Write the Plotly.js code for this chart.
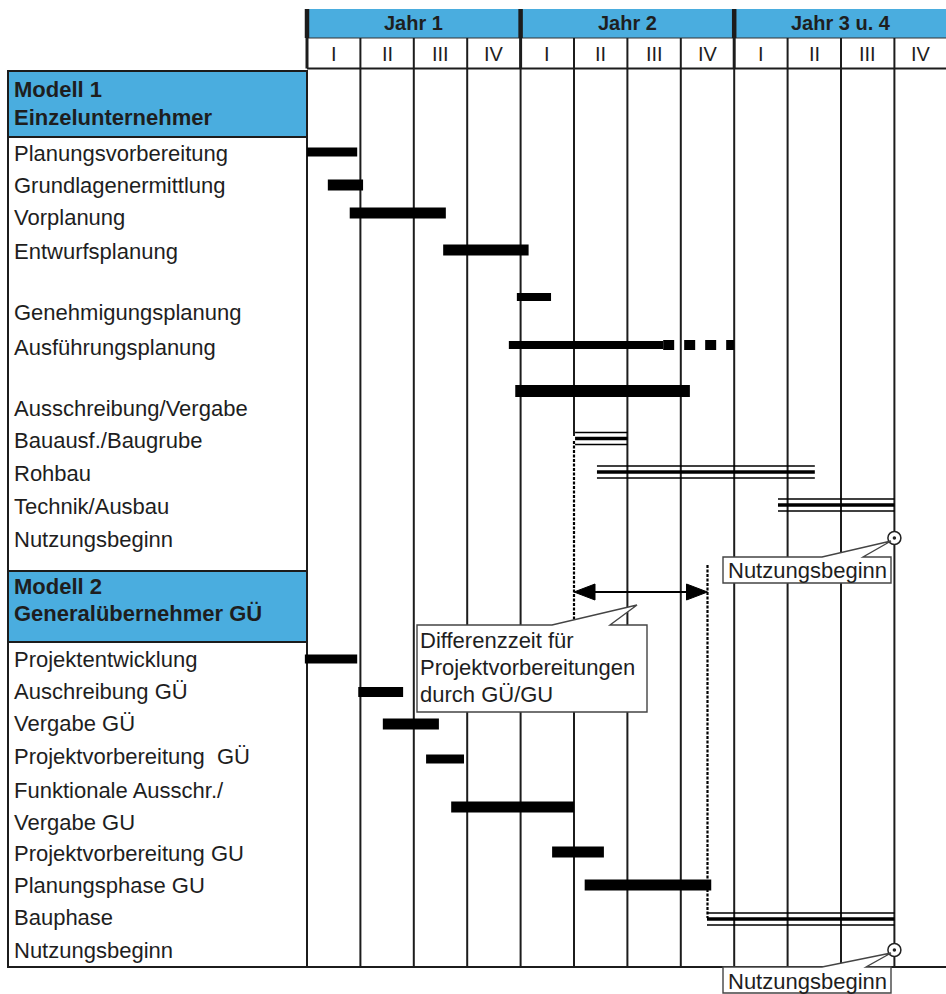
<!DOCTYPE html>
<html>
<head>
<meta charset="utf-8">
<script src="https://cdn.plot.ly/plotly-3.0.1.min.js"></script>
<style>
    html, body { margin: 0; padding: 0; background: #fff; }
    #chart { width: 946px; height: 994px; }
</style>
</head>
<body>
<div id="chart"></div>
<script>
// time axis: one unit = one quarter, 0 = start of Jahr 1
var years = ['Jahr 1', 'Jahr 2', 'Jahr 3 u. 4'];
var quarters = ['I', 'II', 'III', 'IV'];

// Modell 1 - Einzelunternehmer
var m1Labels = ['Planungsvorbereitung', 'Grundlagenermittlung', 'Vorplanung', 'Entwurfsplanung',
    'Genehmigungsplanung', 'Ausführungsplanung', 'Ausschreibung/Vergabe', 'Bauausf./Baugrube',
    'Rohbau', 'Technik/Ausbau', 'Nutzungsbeginn'];
var m1BarTasks = ['Planungsvorbereitung', 'Grundlagenermittlung', 'Vorplanung', 'Entwurfsplanung',
    'Genehmigungsplanung', 'Ausführungsplanung', 'Ausschreibung/Vergabe'];
var m1BarStart = [0, 0.39, 0.8, 2.55, 3.93, 3.78, 3.9];
var m1BarEnd = [0.94, 1.05, 2.6, 4.15, 4.57, 6.67, 7.17];
var m1OptionStart = [6.67];   // Ausführungsplanung, gestrichelt
var m1OptionEnd = [8.0];
var m1BuildTasks = ['Bauausf./Baugrube', 'Rohbau', 'Technik/Ausbau'];
var m1BuildStart = [5.02, 5.43, 8.82];
var m1BuildEnd = [6.0, 9.51, 11.0];
var m1Milestone = [11.0];

// Modell 2 - Generalübernehmer GÜ
var m2Labels = ['Projektentwicklung', 'Auschreibung GÜ', 'Vergabe GÜ', 'Projektvorbereitung  GÜ',
    'Funktionale Ausschr./', 'Vergabe GU', 'Projektvorbereitung GU', 'Planungsphase GU',
    'Bauphase', 'Nutzungsbeginn'];
var m2BarTasks = ['Projektentwicklung', 'Auschreibung GÜ', 'Vergabe GÜ', 'Projektvorbereitung  GÜ',
    'Funktionale Ausschr./Vergabe GU', 'Projektvorbereitung GU', 'Planungsphase GU'];
var m2BarStart = [-0.04, 0.96, 1.42, 2.23, 2.7, 4.59, 5.2];
var m2BarEnd = [0.94, 1.8, 2.47, 2.94, 5.0, 5.56, 7.57];
var m2BuildTasks = ['Bauphase'];
var m2BuildStart = [7.49];
var m2BuildEnd = [11.0];
var m2Milestone = [11.0];

// difference between both models (Bauausf. start vs. Bauphase start)
var diffStart = [5.0];
var diffEnd = [7.5];

// ---- layout positions (pixels on the y axis) ----
var m1LabelY = [153, 185, 217, 251, 312, 347, 408, 440, 473, 506, 539];
var m1BarY = [152, 185, 213, 250, 297, 345, 391];
var m1BarW = [9, 11, 11, 11, 8, 8, 12];
var m1BuildY = [438.5, 472, 505];
var m1MilestoneY = 538;
var m2LabelY = [659, 691, 723, 756, 790, 822, 853, 885, 917, 950];
var m2BarY = [659, 692, 724, 759, 807, 852, 885];
var m2BarW = [9, 10, 11, 9, 11, 11, 11];
var m2BuildY = [919];
var m2MilestoneY = 950;

var Q = 53.4, X0 = 307;
var BLUE = '#4aaddf';
var INK = '#1c1c1c';
var FONT = 'Liberation Sans, Arial, sans-serif';
var NARROW = 'Liberation Sans Narrow, Arial Narrow, Liberation Sans, Arial, sans-serif';
var TXT = 22;

function qx(px) {
    return (px - X0) / Q;
}

function pathFromPx(points) {
    let d = '';
    for (let i = 0; i < points.length; i++) {
        d += (i === 0 ? 'M' : 'L') + qx(points[i][0]).toFixed(4) + ',' + points[i][1];
    }
    return d + 'Z';
}

function hLine(x0, x1, y, width, color, dash) {
    return {type: 'line', xref: 'x', yref: 'y', x0: x0, x1: x1, y0: y, y1: y,
        line: {color: color || INK, width: width, dash: dash || 'solid'}, layer: 'below'};
}

function vLine(x, y0, y1, width, color, dash) {
    return {type: 'line', xref: 'x', yref: 'y', x0: x, x1: x, y0: y0, y1: y1,
        line: {color: color || INK, width: width, dash: dash || 'solid'}, layer: 'below'};
}

function label(text, x, y, size, bold, family, anchor) {
    return {text: bold ? '<b>' + text + '</b>' : text, x: x, y: y, xref: 'x', yref: 'y',
        xanchor: anchor || 'left', yanchor: 'middle', showarrow: false,
        font: {family: family || FONT, size: size, color: '#1e1e1e'}};
}

// solid bars as horizontal bar traces
function barTrace(names, start, end, ys, widths) {
    let len = [];
    for (let i = 0; i < start.length; i++) {
        len.push(end[i] - start[i]);
    }
    return {type: 'bar', orientation: 'h', y: ys, x: len, base: start, width: widths,
        text: names, textposition: 'none', marker: {color: '#000', line: {width: 0}},
        hoverinfo: 'skip', showlegend: false};
}

// triple line (construction phases)
function buildTraces(start, end, ys) {
    let thinX = [], thinY = [], thickX = [], thickY = [];
    for (let i = 0; i < start.length; i++) {
        thinX.push(start[i], end[i], null, start[i], end[i], null);
        thinY.push(ys[i] - 6, ys[i] - 6, null, ys[i] + 6, ys[i] + 6, null);
        thickX.push(start[i], end[i], null);
        thickY.push(ys[i], ys[i], null);
    }
    return [
        {type: 'scatter', mode: 'lines', x: thinX, y: thinY, line: {color: '#000', width: 1.5},
            hoverinfo: 'skip', showlegend: false},
        {type: 'scatter', mode: 'lines', x: thickX, y: thickY, line: {color: '#000', width: 3.5},
            hoverinfo: 'skip', showlegend: false}
    ];
}

function milestoneTraces(xs, ys) {
    return [
        {type: 'scatter', mode: 'markers', x: xs, y: ys,
            marker: {symbol: 'circle', size: 13, color: '#fff', line: {color: '#222', width: 1.5}},
            hoverinfo: 'skip', showlegend: false},
        {type: 'scatter', mode: 'markers', x: xs, y: ys,
            marker: {symbol: 'circle', size: 3.5, color: '#222'},
            hoverinfo: 'skip', showlegend: false}
    ];
}

var data = [];
data.push(barTrace(m1BarTasks, m1BarStart, m1BarEnd, m1BarY, m1BarW));
data.push(barTrace(m2BarTasks, m2BarStart, m2BarEnd, m2BarY, m2BarW));
data.push({type: 'scatter', mode: 'lines', x: [m1OptionStart[0], m1OptionEnd[0]], y: [m1BarY[5], m1BarY[5]],
    line: {color: '#000', width: 10, dash: '11px,10px'}, hoverinfo: 'skip', showlegend: false});
data = data.concat(buildTraces(m1BuildStart, m1BuildEnd, m1BuildY));
data = data.concat(buildTraces(m2BuildStart, m2BuildEnd, m2BuildY));

// dotted reference lines and the difference arrow
data.push({type: 'scatter', mode: 'lines', x: [diffStart[0], diffStart[0]], y: [441, 620],
    line: {color: '#000', width: 2.2, dash: '3px,1.5px'}, hoverinfo: 'skip', showlegend: false});
data.push({type: 'scatter', mode: 'lines', x: [diffEnd[0], diffEnd[0]], y: [565, 918],
    line: {color: '#000', width: 2.2, dash: '3px,1.5px'}, hoverinfo: 'skip', showlegend: false});
data.push({type: 'scatter', mode: 'lines', x: [diffStart[0] + 0.3, diffEnd[0] - 0.3], y: [592, 592],
    line: {color: '#000', width: 2}, hoverinfo: 'skip', showlegend: false});

var shapes = [];
var annotations = [];

// header: years
shapes.push({type: 'rect', xref: 'x', yref: 'y', x0: 0, x1: 13, y0: 9, y1: 38,
    fillcolor: BLUE, line: {width: 0}, layer: 'below'});
shapes.push(hLine(0, 13, 38, 1.2, '#333'));
shapes.push(hLine(0, 13, 68.5, 2));
for (let i = 0; i < years.length; i++) {
    annotations.push(label(years[i], i * 4 + 2, 23, 20, true, NARROW, 'center'));
    shapes.push(vLine(i * 4, 9, 38, 4.5));
}
for (let k = 0; k < 12; k++) {
    annotations.push(label(quarters[k % 4], k + 0.5, 53.5, 20, false, NARROW, 'center'));
    shapes.push(vLine(k, 38, 68.5, k % 4 === 0 ? 3 : 2));
    if (k === 5) {
        shapes.push(vLine(k, 68, 436, 2));
        shapes.push(vLine(k, 620, 967, 2));
    } else if (k > 0) {
        shapes.push(vLine(k, 68, 967, 2));
    }
}

// left table
shapes.push({type: 'rect', xref: 'x', yref: 'y', x0: qx(8), x1: 0, y0: 71, y1: 967,
    fillcolor: 'rgba(0,0,0,0)', line: {color: INK, width: 2}, layer: 'below'});
shapes.push({type: 'rect', xref: 'x', yref: 'y', x0: qx(8), x1: 0, y0: 71, y1: 137,
    fillcolor: BLUE, line: {color: INK, width: 2}, layer: 'below'});
shapes.push({type: 'rect', xref: 'x', yref: 'y', x0: qx(8), x1: 0, y0: 571, y1: 642,
    fillcolor: BLUE, line: {color: INK, width: 2}, layer: 'below'});
shapes.push(hLine(qx(8), 13, 967, 2));

var LX = qx(12);
annotations.push(label('Modell 1', LX, 89, TXT, true));
annotations.push(label('Einzelunternehmer', LX, 117, TXT, true));
annotations.push(label('Modell 2', LX, 586, TXT, true));
annotations.push(label('Generalübernehmer GÜ', LX, 613, TXT, true));
for (let i = 0; i < m1Labels.length; i++) {
    annotations.push(label(m1Labels[i], LX, m1LabelY[i], TXT));
}
for (let i = 0; i < m2Labels.length; i++) {
    annotations.push(label(m2Labels[i], LX, m2LabelY[i], TXT));
}

// arrow heads
var headLen = 21 / Q;
shapes.push({type: 'path', xref: 'x', yref: 'y',
    path: 'M' + diffStart[0] + ',592L' + (diffStart[0] + headLen) + ',584L' + (diffStart[0] + headLen) + ',600Z',
    fillcolor: '#000', line: {color: '#000', width: 1}});
shapes.push({type: 'path', xref: 'x', yref: 'y',
    path: 'M' + diffEnd[0] + ',592L' + (diffEnd[0] - headLen) + ',584L' + (diffEnd[0] - headLen) + ',600Z',
    fillcolor: '#000', line: {color: '#000', width: 1}});

// callouts
var calloutLine = {color: '#444', width: 1.4};
shapes.push({type: 'path', xref: 'x', yref: 'y', fillcolor: '#fff', line: calloutLine,
    path: pathFromPx([[417, 625], [552, 625], [637, 605], [610, 625], [647, 625], [647, 712], [417, 712]])});
annotations.push(label('Differenzzeit für', qx(418), 640, TXT));
annotations.push(label('Projektvorbereitungen', qx(418), 667, TXT));
annotations.push(label('durch GÜ/GU', qx(418), 694, TXT));

shapes.push({type: 'path', xref: 'x', yref: 'y', fillcolor: '#fff', line: calloutLine,
    path: pathFromPx([[723, 557], [822, 557], [891, 541], [863, 557], [891, 557], [891, 583], [723, 583]])});
annotations.push(label('Nutzungsbeginn', qx(807), 570, TXT, false, FONT, 'center'));

shapes.push({type: 'path', xref: 'x', yref: 'y', fillcolor: '#fff', line: calloutLine,
    path: pathFromPx([[723, 967], [822, 967], [891, 953], [866, 967], [891, 967], [891, 993], [723, 993]])});
annotations.push(label('Nutzungsbeginn', qx(807), 981, TXT, false, FONT, 'center'));

// milestones on top of the callout pointers
data = data.concat(milestoneTraces([m1Milestone[0], m2Milestone[0]], [m1MilestoneY, m2MilestoneY]));

var layout = {
    width: 946,
    height: 994,
    margin: {l: 0, r: 0, t: 0, b: 0},
    paper_bgcolor: '#fff',
    plot_bgcolor: '#fff',
    showlegend: false,
    barmode: 'overlay',
    xaxis: {range: [qx(0), qx(946)], visible: false, fixedrange: true},
    yaxis: {range: [994, 0], visible: false, fixedrange: true},
    shapes: shapes,
    annotations: annotations
};

Plotly.newPlot('chart', data, layout, {staticPlot: true, displayModeBar: false});
</script>
</body>
</html>
